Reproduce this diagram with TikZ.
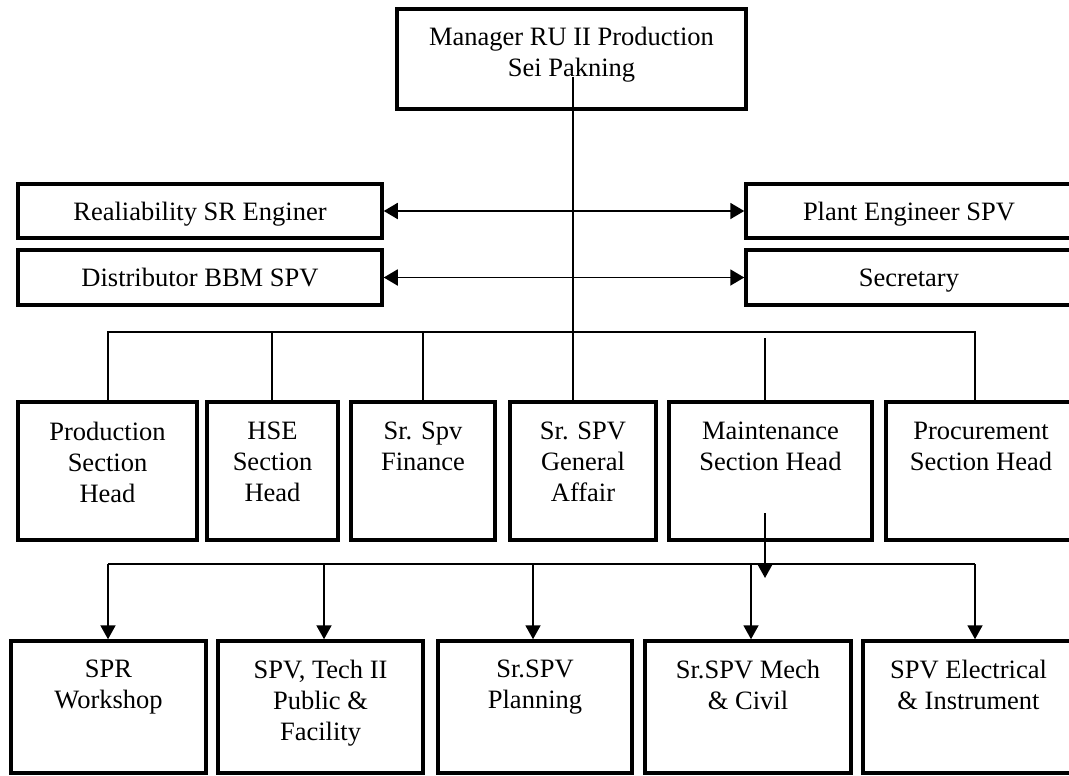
\documentclass[tikz,border=0pt]{standalone}
\usepackage{fontspec}
\setmainfont{Liberation Serif}
\usetikzlibrary{arrows.meta}
\tikzset{
  box/.style={draw, line width=3.5pt, inner sep=0pt, minimum width=#1},
  lbl/.style={anchor=north, inner sep=0pt, align=center, font=\fontsize{26.5}{31}\selectfont},
  mid/.style={anchor=base, inner sep=0pt, font=\fontsize{26.5}{31}\selectfont},
  conn/.style={line width=1.9pt},
  arr/.style={conn, -{Triangle[length=14pt,width=15pt]}},
  dbl/.style={conn, {Triangle[length=14pt,width=16pt]}-{Triangle[length=14pt,width=16pt]}}
}
\begin{document}
\begin{tikzpicture}[x=1pt,y=-1pt]
\useasboundingbox (0,0) rectangle (1069,776);
\clip (0,0) rectangle (1069,776);
% top box
\node[box=349pt, minimum height=100pt] (mgr) at (571.5,59) {};
\node[lbl] (mgrt) at (571.5,27) {Manager RU II Production\\Sei Pakning};
% staff boxes
\node[box=364pt, minimum height=54pt] (rel) at (200,211) {};
\node[mid] (relt) at (200,220) {Realiability SR Enginer};
\node[box=326pt, minimum height=54pt] (plant) at (909,211) {};
\node[mid] (plantt) at (909,220) {Plant Engineer SPV};
\node[box=364pt, minimum height=55pt] (dist) at (200,277.5) {};
\node[mid] (distt) at (200,286.5) {Distributor BBM SPV};
\node[box=326pt, minimum height=55pt] (sec) at (909,277.5) {};
\node[mid] (sect) at (909,286.5) {Secretary};
% middle row
\node[box=179pt, minimum height=138pt] (prod) at (107.5,471) {};
\node[lbl] (prodt) at (107.5,422) {Production\\Section\\Head};
\node[box=131pt, minimum height=138pt] (hse) at (272.5,471) {};
\node[lbl] (hset) at (272.5,422) {HSE\\Section\\Head};
\node[box=144pt, minimum height=138pt] (fin) at (423,471) {};
\node[lbl] (fint) at (423,422) {Sr. Spv\\Finance};
\node[box=146pt, minimum height=138pt] (ga) at (583,471) {};
\node[lbl] (gat) at (583,422) {Sr. SPV\\General\\Affair};
\node[box=203pt, minimum height=138pt] (maint) at (770.5,471) {};
\node[lbl] (maintt) at (770.5,422) {Maintenance\\Section Head};
\node[box=190pt, minimum height=138pt] (proc) at (981,471) {};
\node[lbl] (proct) at (981,422) {Procurement\\Section Head};
% bottom row
\node[box=195pt, minimum height=132pt] (spr) at (108.5,707) {};
\node[lbl] (sprt) at (108.5,660) {SPR\\Workshop};
\node[box=205pt, minimum height=132pt] (tech) at (320.5,707) {};
\node[lbl] (techt) at (320.5,660) {SPV, Tech II\\Public \&\\Facility};
\node[box=194pt, minimum height=132pt] (plan) at (535,707) {};
\node[lbl] (plant2) at (535,660) {Sr.SPV\\Planning};
\node[box=206pt, minimum height=132pt] (mech) at (748,707) {};
\node[lbl] (mecht) at (748,660) {Sr.SPV Mech\\\& Civil};
\node[box=211pt, minimum height=132pt] (elec) at (968.5,707) {};
\node[lbl] (elect) at (968.5,660) {SPV Electrical\\\& Instrument};
% connectors
\coordinate (mtail) at (573,77);
\draw[conn] (mtail) -- (mtail |- ga.north);
\draw[dbl] (rel.east) -- (plant.west);
\draw[dbl] (dist.east) -- (sec.west |- dist.east);
\coordinate (busL) at (108,332);
\coordinate (busR) at (975,332);
\draw[conn] (busL |- prod.north) -- (busL) -- (busR) -- (busR |- proc.north);
\draw[conn] (272,332) -- (272,402);
\draw[conn] (423,332) -- (423,402);
\coordinate (mstub) at (765,338);
\draw[conn] (mstub) -- (mstub |- maint.north);
\coordinate (mdown) at (765,513);
\coordinate (mdownend) at (765,578);
\draw[arr] (mdown) -- (mdownend);
\coordinate (bL) at (108,564);
\coordinate (bR) at (975,564);
\draw[conn] (bL) -- (bR);
\draw[arr] (bL) -- (bL |- spr.north);
\coordinate (b2) at (324,564);
\draw[arr] (b2) -- (b2 |- tech.north);
\coordinate (b3) at (533,564);
\draw[arr] (b3) -- (b3 |- plan.north);
\coordinate (b4) at (751,564);
\draw[arr] (b4) -- (b4 |- mech.north);
\draw[arr] (bR) -- (bR |- elec.north);
\end{tikzpicture}
\end{document}
